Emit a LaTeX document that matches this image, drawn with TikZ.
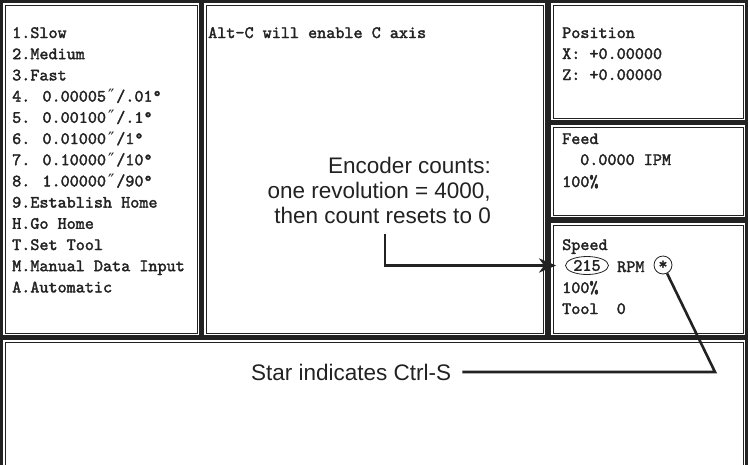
\documentclass[tikz,border=0pt]{standalone}
\usepackage{fontspec}
\setsansfont{Liberation Sans}
\newfontfamily\crt{lmmono10-regular.otf}[FakeBold=2]
\newfontfamily\dvmono{DejaVu Sans Mono}
\usetikzlibrary{arrows.meta,shapes.geometric}
\definecolor{ink}{HTML}{222222}
\newcommand\dpr{{\dvmono\fontsize{17}{17}\selectfont ″}}
\begin{document}
\begin{tikzpicture}[x=1pt,y=-1pt,
  panel/.style={draw=ink, line width=3pt, inner sep=0pt, outer sep=0pt, anchor=north west},
  mono/.style={font=\crt\fontsize{17.3}{21}\selectfont, text=ink, anchor=base west, inner sep=0pt},
  note/.style={font=\sffamily\fontsize{22.5}{25}\selectfont, text=ink, inner sep=0pt},
  conn/.style={draw=ink, line width=2.6pt},
  ring/.style={draw=ink, line width=0.8pt, inner sep=0pt},
]
\useasboundingbox (0,0) rectangle (750,464);
\clip (0,0) rectangle (750,464);
% panels
\node[panel, minimum width=199pt, minimum height=335pt] (left) at (1.5,1.5) {};
\node[panel, minimum width=344pt, minimum height=335pt] (mid) at (202.5,1.5) {};
\node[panel, minimum width=197pt, minimum height=120pt] (pos) at (549.5,1.5) {};
\node[panel, minimum width=197pt, minimum height=95pt] (feed) at (549.5,123.5) {};
\node[panel, minimum width=197pt, minimum height=115pt] (speed) at (549.5,221.5) {};
\node[panel, minimum width=745pt, minimum height=200pt] (bottom) at (1.5,338.5) {};
\foreach \p in {left,mid,pos,feed,speed,bottom}
  \draw[ink, line width=0.9pt] ([xshift=3.5pt,yshift=-3.5pt]\p.north west) rectangle ([xshift=-3.5pt,yshift=3.5pt]\p.south east);
% left menu
\foreach \t [count=\i] in {1.Slow,2.Medium,3.Fast,
  4. 0.00005\dpr/.01°,5. 0.00100\dpr/.1°,6. 0.01000\dpr/1°,7. 0.10000\dpr/10°,8. 1.00000\dpr/90°,
  9.Establish Home,H.Go Home,T.Set Tool,M.Manual Data Input,A.Automatic}
  \node[mono] (m\i) at (12,{38+21.2*(\i-1)}) {\t};
% middle
\node[mono] (alt) at (208,38) {Alt-C will enable C axis};
% position
\node[mono] (postitle) at (562,38) {Position};
\node[mono] (posx) at (562,59) {X: +0.00000};
\node[mono] (posz) at (562,80) {Z: +0.00000};
% feed
\node[mono] (feedtitle) at (562,144) {Feed};
\node[mono] (feedval) at (580,165) {0.0000 IPM};
\node[mono] (feedpct) at (562,187) {100\%};
% speed
\node[mono] (speedtitle) at (562,250) {Speed};
\node[mono, anchor=center, ring, ellipse, minimum width=43pt, minimum height=18pt] (rpm) at (587,265.5) {215};
\node[mono] (rpmunit) at (617,272) {RPM};
\node[mono, anchor=center, ring, circle, minimum size=18pt] (star) at (663,265) {*};
\node[mono] (speedpct) at (562,293) {100\%};
\node[mono] (tool) at (562,314) {Tool\ \ 0};
% notes
\node[note, align=right, anchor=north east] (enc) at (491,156.5) {Encoder counts:\\one revolution = 4000,\\then count resets to 0};
\coordinate (encA) at (385,234);
\draw[conn, -{Stealth[length=17pt,width=14pt,inset=5pt]}, shorten >=9pt] (encA) |- (rpm.west);
\node[note, anchor=base west] (startxt) at (251,380) {Star indicates Ctrl-S};
\coordinate (bend) at (715,372);
\draw[conn, shorten <=11pt] (startxt.east) -- (bend) -- (star);
\end{tikzpicture}
\end{document}
